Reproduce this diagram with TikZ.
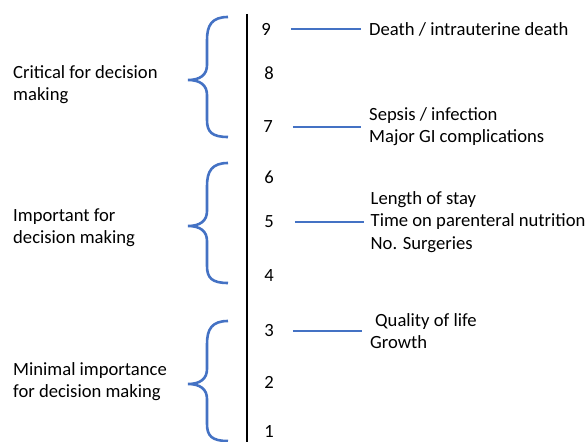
\documentclass[tikz,border=0pt]{standalone}
\usepackage{fontspec}
\setmainfont{Carlito}
\definecolor{officeblue}{RGB}{68,114,196}
\tikzset{
  txt/.style={inner sep=0pt,font=\fontsize{18.7}{22.3}\selectfont,align=left},
  link/.style={officeblue,line width=2.6pt},
  curly/.pic={\draw[officeblue,line width=2.6pt]
    (0,0) .. controls (-16,0) and (-21,8) .. (-21,23) -- (-21,48)
    .. controls (-21,58) and (-28,63) .. (-40,63)
    .. controls (-28,63) and (-21,68) .. (-21,78) -- (-21,103)
    .. controls (-21,115) and (-16,120) .. (0,120);}
}
\begin{document}
\begin{tikzpicture}[x=1bp,y=-1bp]
            \useasboundingbox (0,0) rectangle (588,442);
            % scale
            \coordinate (top) at (247,14);
            \coordinate (bot) at (247,446);
            \draw[line width=2.6pt] (top) -- (bot);
            \foreach \n/\x/\y in {9/266/29,8/269/73,7/268/127,6/269/177,5/269/222,4/269/276,3/269/331,2/269/382,1/269/432}
              \node[txt] (n\n) at (\x,\y) {\n};
            % braces
            \pic at (228,17) {curly};
            \pic at (228,163) {curly};
            \pic at (228,321) {curly};
            \node[txt,anchor=west] (crit) at (13,84.5) {Critical for decision\\making};
            \node[txt,anchor=west] (imp) at (13,227.5) {Important for\\decision making};
            \node[txt,anchor=west] (mini) at (13,382) {Minimal importance\\for decision making};
            % outcomes
            \node[txt,anchor=west] (t9) at (369,29) {Death / intrauterine death};
            \node[txt,anchor=west] (t7) at (369,127) {Sepsis / infection\\Major GI complications};
            \node[txt,anchor=west] (t5) at (370.5,222) {Length of stay\\Time on parenteral nutrition\\No. Surgeries};
            \node[txt,anchor=west] (t3) at (370,331) {\hspace*{5bp}Quality of life\\Growth};
            \draw[link] ([xshift=20bp]n9.east) -- ([xshift=-8bp]t9.west);
            \draw[link] ([xshift=20bp]n7.east) -- ([xshift=-8bp]t7.west);
            \draw[link] ([xshift=21bp]n5.east) -- ([xshift=-7bp]t5.west);
            \draw[link] ([xshift=19bp]n3.east) -- ([xshift=-8bp]t3.west);
        \end{tikzpicture}
\end{document}
